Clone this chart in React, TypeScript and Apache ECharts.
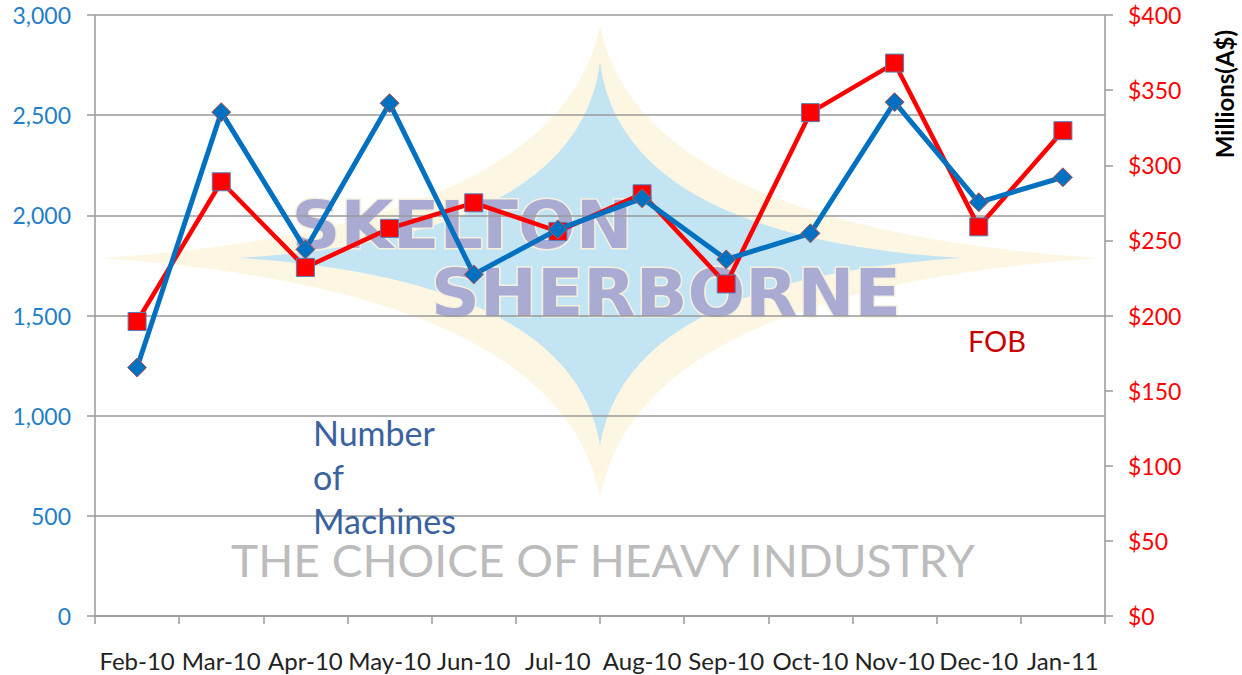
import React, { useEffect, useRef } from "react";
import * as echarts from "echarts";

const categories = [
  "Feb-10", "Mar-10", "Apr-10", "May-10", "Jun-10", "Jul-10",
  "Aug-10", "Sep-10", "Oct-10", "Nov-10", "Dec-10", "Jan-11",
];
const machines = [1240, 2515, 1830, 2560, 1705, 1930, 2085, 1780, 1910, 2565, 2065, 2190];
const fob = [196, 289, 232, 258, 275, 256, 281, 221, 335, 368, 259, 323];

const STAR_OUTER = "M600,25 Q640,228 1100,258 Q640,290 600,497 Q560,290 100,258 Q560,228 600,25 Z";
const STAR_INNER = "M600,62 Q622,236 960,258 Q628,280 600,445 Q572,280 240,258 Q578,236 600,62 Z";

let registered = false;
function registerShapes() {
  if (registered) return;
  registered = true;
  echarts.graphic.registerShape("starOuter", echarts.graphic.extendPath(STAR_OUTER, {}) as any);
  echarts.graphic.registerShape("starInner", echarts.graphic.extendPath(STAR_INNER, {}) as any);
}

export default function App() {
  const ref = useRef<HTMLDivElement>(null);
  useEffect(() => {
    document.body.style.margin = "0";
    registerShapes();
    const chart = echarts.init(ref.current!, undefined, { renderer: "svg" });
    const grey = "#9a9a9a";
    chart.setOption({
      animation: false,
      backgroundColor: "#ffffff",
      grid: { left: 95, right: 137, top: 15, bottom: 59, containLabel: false },
      graphic: [
        { type: "starOuter", x: 0, y: 0, z: -10, silent: true, style: { fill: "#fcf1d2", opacity: 0.65 } },
        { type: "starInner", x: 0, y: 0, z: -9, silent: true, style: { fill: "#c2e4f3" } },
        {
          type: "text", x: 462, y: 225, z: -8, silent: true, scaleX: 1.03,
          style: {
            text: "SKELTON", fontFamily: "DejaVu Sans", fontWeight: "bold", fontSize: 66,
            fill: "#aaabd3", stroke: "#f6f1de", lineWidth: 3, align: "center", verticalAlign: "middle",
          },
        },
        {
          type: "text", x: 666, y: 293, z: -8, silent: true, scaleX: 1.03,
          style: {
            text: "SHERBORNE", fontFamily: "DejaVu Sans", fontWeight: "bold", fontSize: 66,
            fill: "#aaabd3", stroke: "#f6f1de", lineWidth: 3, align: "center", verticalAlign: "middle",
          },
        },
        {
          type: "text", x: 603, y: 560, z: -8, silent: true, scaleX: 1.045,
          style: {
            text: "THE CHOICE OF HEAVY INDUSTRY", fontFamily: "Lato", fontSize: 44,
            fill: "#bcbcbc", align: "center", verticalAlign: "middle",
          },
        },
        {
          type: "text", x: 313, y: 410, z: 5, silent: true,
          style: {
            text: "Number\nof\nMachines", fontFamily: "Lato", fontSize: 34, lineHeight: 44,
            fill: "#3a62a0", align: "left", verticalAlign: "top",
          },
        },
        {
          type: "text", x: 997, y: 340, z: 5, silent: true,
          style: {
            text: "FOB", fontFamily: "Lato", fontSize: 29,
            fill: "#c80000", align: "center", verticalAlign: "middle",
          },
        },
        {
          type: "text", x: 1224, y: 94, z: 5, silent: true, rotation: Math.PI / 2,
          style: {
            text: "Millions(A$)", fontFamily: "Lato", fontWeight: "bold", fontSize: 24,
            fill: "#000000", align: "center", verticalAlign: "middle",
          },
        },
      ],
      xAxis: {
        type: "category",
        data: categories,
        boundaryGap: true,
        axisLine: { show: true, lineStyle: { color: grey, width: 1.5 } },
        axisTick: { show: true, length: 8, lineStyle: { color: grey, width: 1.5 } },
        axisLabel: { color: "#222222", fontFamily: "Lato", fontSize: 24, margin: 32, interval: 0 },
      },
      yAxis: [
        {
          type: "value", position: "left", min: 0, max: 3000, interval: 500,
          axisLine: { show: true, lineStyle: { color: grey, width: 1.5 } },
          axisTick: { show: true, length: 8, lineStyle: { color: grey, width: 1.5 } },
          splitLine: { show: true, lineStyle: { color: grey, width: 1.5 } },
          axisLabel: {
            color: "#1f7fc9", fontFamily: "Lato", fontSize: 23, margin: 24,
            formatter: (v: number) => v.toLocaleString("en-US"),
          },
        },
        {
          type: "value", position: "right", min: 0, max: 400, interval: 50,
          axisLine: { show: true, lineStyle: { color: grey, width: 1.5 } },
          axisTick: { show: true, length: 8, lineStyle: { color: grey, width: 1.5 } },
          splitLine: { show: false },
          axisLabel: {
            color: "#ff0000", fontFamily: "Lato", fontSize: 23, margin: 23,
            formatter: (v: number) => "$" + v,
          },
        },
      ],
      series: [
        {
          name: "FOB", type: "line", yAxisIndex: 1, data: fob, z: 3,
          symbol: "rect", symbolSize: 18,
          lineStyle: { color: "#ff0000", width: 4.5 },
          itemStyle: { color: "#ff0000", borderColor: "#4f81bd", borderWidth: 1 },
          emphasis: { disabled: true },
        },
        {
          name: "Number of Machines", type: "line", yAxisIndex: 0, data: machines, z: 4,
          symbol: "diamond", symbolSize: 19,
          lineStyle: { color: "#0070c0", width: 5 },
          itemStyle: { color: "#0070c0", borderColor: "#c0504d", borderWidth: 1 },
          emphasis: { disabled: true },
        },
      ],
    });
    return () => chart.dispose();
  }, []);
  return <div ref={ref} style={{ width: 1242, height: 675 }} />;
}
